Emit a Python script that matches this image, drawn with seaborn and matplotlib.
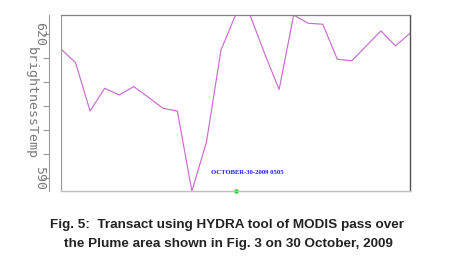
import matplotlib
matplotlib.use("Agg")
import matplotlib.pyplot as plt
import seaborn as sns
import pandas as pd

# Data
sample_index = list(range(25))
brightness_temp = [616.9, 614.1, 604.0, 608.75, 607.35, 609.1, 606.9, 604.6, 604.0, 587.35,
                   597.5, 616.7, 624.0, 624.0, 616.0, 608.5, 624.0, 622.3, 622.1, 614.8,
                   614.5, 617.6, 620.7, 617.6, 620.2]
ytick_values = [620, 615, 610, 605, 600, 595, 590]
ytick_labels = ["620", "", "", "", "", "", "590"]
date_label = "OCTOBER-30-2009 0505"
caption_lines = ["Fig. 5:  Transact using HYDRA tool of MODIS pass over",
                 "the Plume area shown in Fig. 3 on 30 October, 2009"]

df = pd.DataFrame({"idx": sample_index, "brightnessTemp": brightness_temp})

sns.set_style("white")
plt.rcParams["font.family"] = ["DejaVu Sans"]

fig = plt.figure(figsize=(4.53, 2.66), dpi=100)
ax = fig.add_axes([61 / 453, 1 - 191 / 266, 349 / 453, 176 / 266])

sns.lineplot(data=df, x="idx", y="brightnessTemp", ax=ax, color="#c86ccf",
             linewidth=0.85)

ax.set_xlim(0, 24)
ax.set_ylim(587.35, 624.02)

# frame
ax.spines["top"].set_color("#808080")
ax.spines["top"].set_linewidth(0.9)
ax.spines["right"].set_color("#505050")
ax.spines["right"].set_linewidth(1.0)
ax.spines["bottom"].set_color("#c0c0c0")
ax.spines["bottom"].set_linewidth(1.0)
ax.spines["left"].set_position(("outward", 9))
ax.spines["left"].set_color("#9a9a9a")
ax.spines["left"].set_linewidth(0.8)
ax.axvline(0, color="#9a9a9a", linewidth=0.9)

ax.set_xticks([])
ax.set_xlabel("")
ax.set_yticks(ytick_values)
ax.set_yticklabels(ytick_labels, rotation=-90, va="center", ha="center",
                   family="DejaVu Sans Mono", fontsize=9.5, color="#7a7a7a")
ax.tick_params(axis="y", direction="out", length=4, width=0.8, color="#9a9a9a", pad=2.5, left=True)
ax.set_ylabel("brightnessTemp", rotation=-90, family="DejaVu Sans Mono", fontsize=9.5,
              color="#7a7a7a", va="center", ha="center")
ax.yaxis.set_label_coords((31 - 61) / 349, 0.5)

ax.text(10.3, 591.3, date_label, color="#1a1aff", fontsize=4.8, fontweight="bold",
        family="Liberation Serif", va="center", ha="left")
ax.plot([12], [587.35], marker="o", markersize=2.2, color="#22cc22", clip_on=False)

fig.text(227.5 / 453, 1 - 225 / 266, caption_lines[0], ha="center", va="center",
         fontsize=9.7, fontweight="bold", family="Liberation Sans", color="#222222")
fig.text(228 / 453, 1 - 243.5 / 266, caption_lines[1], ha="center", va="center",
         fontsize=9.7, fontweight="bold", family="Liberation Sans", color="#222222")

fig.savefig("out.png", dpi=100)
